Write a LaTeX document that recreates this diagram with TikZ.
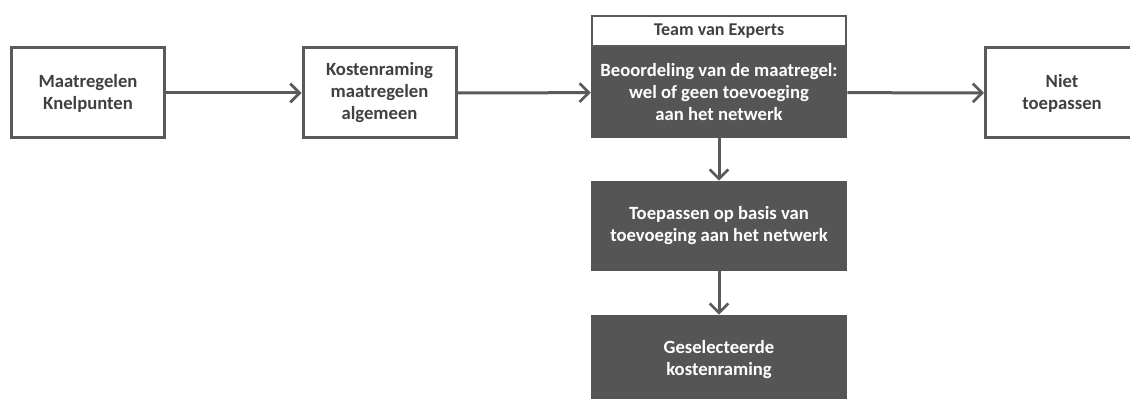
\documentclass[tikz,border=0pt]{standalone}
\usepackage{fontspec}
\setmainfont{Carlito}
\usetikzlibrary{arrows.meta}
\definecolor{donker}{RGB}{85,85,85}
\definecolor{lijn}{RGB}{90,90,90}
\definecolor{tekst}{RGB}{64,64,64}
\tikzset{
	witblok/.style={draw=lijn, line width=2.25pt, fill=white, text=tekst, align=center,
		minimum width=114.75pt, minimum height=67.5pt, inner sep=0pt,
		font=\fontsize{14}{16.5}\selectfont\bfseries},
	donkerblok/.style={fill=donker, text=white, align=center,
		minimum width=192pt, minimum height=68.25pt, inner sep=0pt,
		font=\fontsize{14}{16.5}\selectfont\bfseries},
	kopblok/.style={draw=lijn, line width=1.5pt, fill=white, text=tekst, align=center,
		minimum width=190.5pt, minimum height=22.5pt, inner sep=0pt,
		font=\fontsize{13.5}{15}\selectfont\bfseries},
	pijl/.style={draw=lijn, line width=2.25pt, -{Straight Barb[length=7pt,width=14pt,line width=2pt]}}
}
\begin{document}
\begin{tikzpicture}[x=0.75pt,y=0.75pt,yscale=-1,xscale=1]
	\useasboundingbox (0,0) rectangle (1130,399);
	% bovenste rij
	\node [witblok] (knelpunten) at (88,93) {Maatregelen\\Knelpunten};
	\node [witblok] (raming) at (379.5,93) {Kostenraming\\maatregelen\\algemeen};
	\node [donkerblok] (beoordeling) at (719,92.5) {Beoordeling van de maatregel:\\wel of geen toevoeging\\aan het netwerk};
	\node [kopblok, anchor=south] (team) at (beoordeling.north) {Team van Experts};
	\node [witblok] (niet) at (1062,93) {Niet\\toepassen};
	% kolom onder de beoordeling
	\node [donkerblok, minimum height=67.5pt] (toepassen) at (719,226) {Toepassen op basis van\\toevoeging aan het netwerk};
	\node [donkerblok, minimum height=67.5pt] (selectie) at (719,360) {Geselecteerde\\kostenraming};
	\draw [pijl] (knelpunten) -- (raming);
	\draw [pijl] (raming) -- (beoordeling);
	\draw [pijl] (beoordeling) -- (niet);
	\draw [pijl] (beoordeling) -- (toepassen);
	\draw [pijl] (toepassen) -- (selectie);
\end{tikzpicture}
\end{document}
